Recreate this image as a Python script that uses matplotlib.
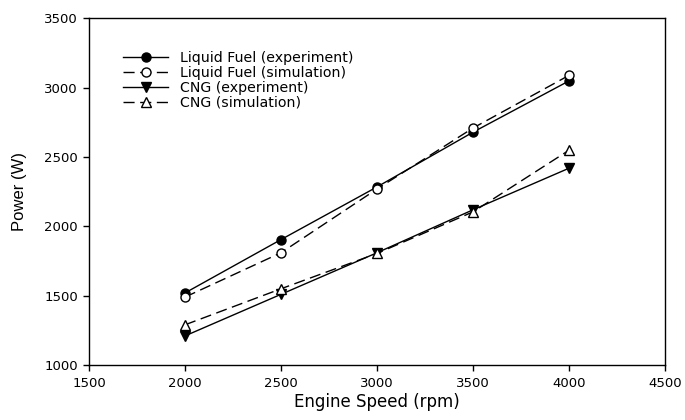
import matplotlib
matplotlib.use("Agg")
import matplotlib.pyplot as plt

speed = [2000, 2500, 3000, 3500, 4000]
liquid_exp = [1520, 1905, 2285, 2680, 3050]
liquid_sim = [1490, 1810, 2270, 2710, 3090]
cng_exp = [1210, 1510, 1810, 2120, 2420]
cng_sim = [1290, 1550, 1805, 2105, 2550]

x_ticks = [1500, 2000, 2500, 3000, 3500, 4000, 4500]
y_ticks = [1000, 1500, 2000, 2500, 3000, 3500]

plt.rcParams['font.family'] = ['DejaVu Sans']

fig = plt.figure(figsize=(6.85, 4.2), dpi=100)
ax = fig.add_axes([0.130, 0.131, 0.841, 0.825])

ms = 6.5
ax.plot(speed, liquid_exp, '-', color='black', lw=1, marker='o', ms=ms,
        mfc='black', mec='black', label='Liquid Fuel (experiment)')
ax.plot(speed, liquid_sim, '--', color='black', lw=1, dashes=(8, 4), marker='o', ms=ms,
        mfc='white', mec='black', label='Liquid Fuel (simulation)')
ax.plot(speed, cng_exp, '-', color='black', lw=1, marker='v', ms=ms + 0.5,
        mfc='black', mec='black', label='CNG (experiment)')
ax.plot(speed, cng_sim, '--', color='black', lw=1, dashes=(8, 4), marker='^', ms=ms + 0.5,
        mfc='white', mec='black', label='CNG (simulation)')

ax.set_xlim(1500, 4500)
ax.set_ylim(1000, 3500)
ax.set_xticks(x_ticks)
ax.set_yticks(y_ticks)
ax.tick_params(direction='out', length=4, width=1, labelsize=9.5, colors='black')
ax.tick_params(axis='x', pad=5)
ax.tick_params(axis='y', pad=4)
for s in ax.spines.values():
    s.set_linewidth(1)
ax.set_xlabel('Engine Speed (rpm)', fontsize=12, labelpad=2)
ax.set_ylabel('Power (W)', fontsize=12, family=['Liberation Sans', 'DejaVu Sans'])
ax.yaxis.set_label_coords(-0.108, 0.5)

leg = ax.legend(loc='upper left', bbox_to_anchor=(0.059, 0.905), frameon=False,
                fontsize=10.2, handlelength=3.2, labelspacing=0.05, handletextpad=0.8,
                borderaxespad=0, borderpad=0)

fig.savefig('out.png', dpi=100)
